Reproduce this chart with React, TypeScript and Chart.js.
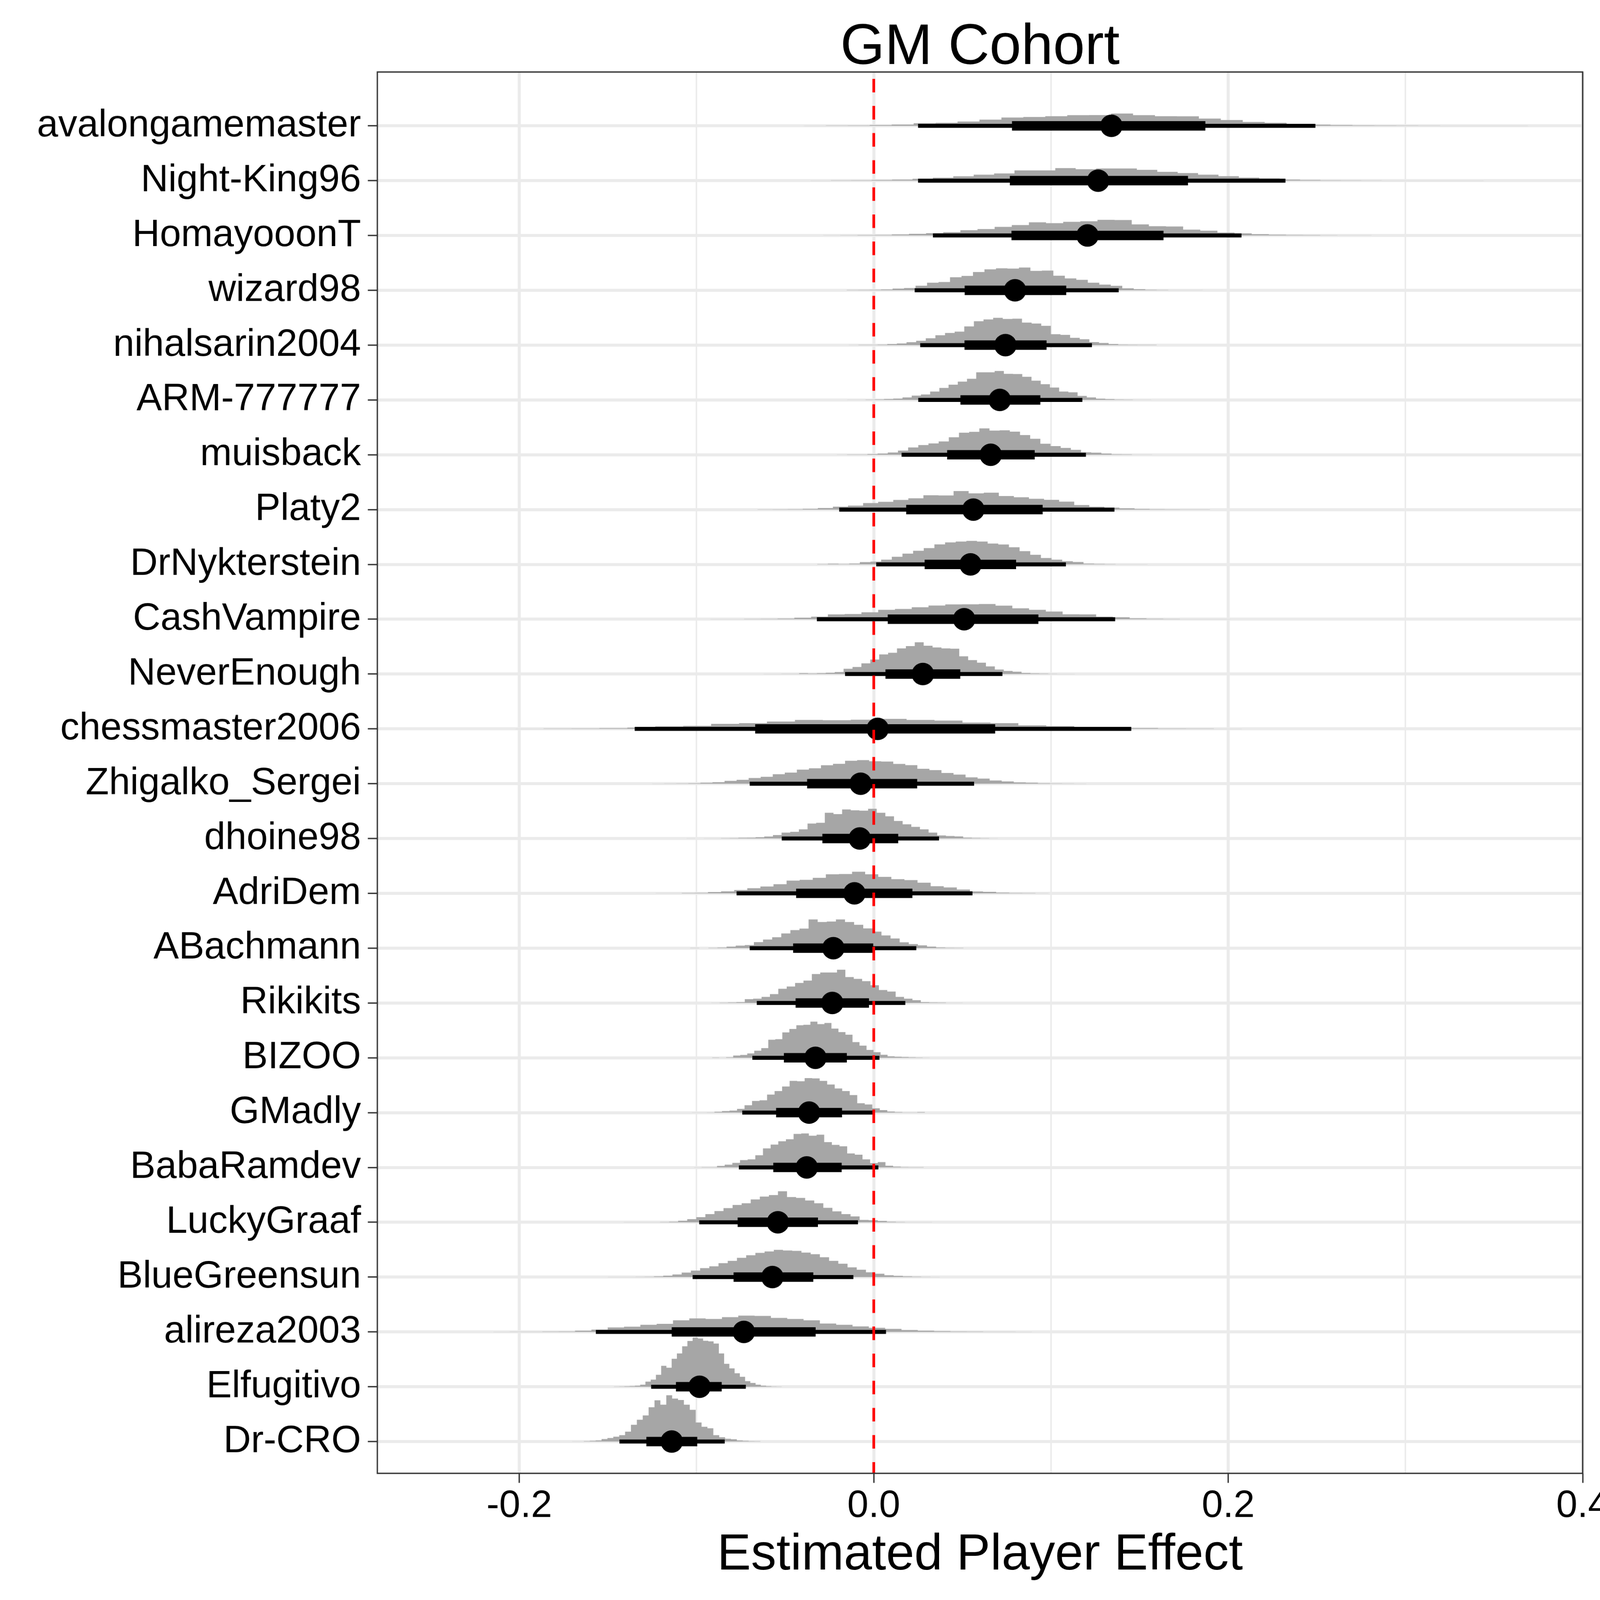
import React, { useEffect, useRef } from "react";
import { Chart, registerables } from "chart.js";

Chart.register(...registerables);

// ---------------- data ----------------
const players = [
  "avalongamemaster", "Night-King96", "HomayooonT", "wizard98", "nihalsarin2004",
  "ARM-777777", "muisback", "Platy2", "DrNykterstein", "CashVampire",
  "NeverEnough", "chessmaster2006", "Zhigalko_Sergei", "dhoine98", "AdriDem",
  "ABachmann", "Rikikits", "BIZOO", "GMadly", "BabaRamdev",
  "LuckyGraaf", "BlueGreensun", "alireza2003", "Elfugitivo", "Dr-CRO",
];

const medians = [
  0.1341, 0.1266, 0.1206, 0.0797, 0.0743, 0.0711, 0.0660, 0.0562, 0.0546, 0.0510,
  0.0277, 0.0022, -0.0074, -0.0079, -0.0109, -0.0228, -0.0234, -0.0329, -0.0365, -0.0378,
  -0.0541, -0.0572, -0.0733, -0.0983, -0.1140,
];

const interval66Low = [
  0.0780, 0.0768, 0.0777, 0.0513, 0.0512, 0.0489, 0.0414, 0.0183, 0.0287, 0.0079,
  0.0066, -0.0669, -0.0376, -0.0290, -0.0438, -0.0455, -0.0441, -0.0507, -0.0551, -0.0567,
  -0.0768, -0.0791, -0.1140, -0.1116, -0.1283,
];
const interval66High = [
  0.1871, 0.1773, 0.1635, 0.1086, 0.0975, 0.0940, 0.0908, 0.0953, 0.0803, 0.0929,
  0.0488, 0.0685, 0.0245, 0.0138, 0.0218, -0.0003, -0.0027, -0.0152, -0.0179, -0.0181,
  -0.0315, -0.0341, -0.0328, -0.0858, -0.0996,
];
const interval95Low = [
  0.0250, 0.0250, 0.0334, 0.0231, 0.0262, 0.0251, 0.0157, -0.0195, 0.0014, -0.0321,
  -0.0162, -0.1349, -0.0700, -0.0519, -0.0774, -0.0700, -0.0660, -0.0685, -0.0742, -0.0761,
  -0.0985, -0.1022, -0.1568, -0.1256, -0.1435,
];
const interval95High = [
  0.2492, 0.2323, 0.2075, 0.1382, 0.1231, 0.1177, 0.1197, 0.1358, 0.1084, 0.1362,
  0.0726, 0.1453, 0.0566, 0.0368, 0.0557, 0.0240, 0.0178, 0.0032, -0.0007, 0.0026,
  -0.0089, -0.0115, 0.0069, -0.0722, -0.0841,
];

// histogram slab: left edge of first bin, bin width, bin heights (in row units)
const slabStart = [
  -0.0394, -0.0357, -0.0285, -0.0153, -0.0141, -0.0150, -0.0208, -0.0656, -0.0319, -0.0921,
  -0.0622, -0.2021, -0.1250, -0.1057, -0.1231, -0.1036, -0.0917, -0.0912, -0.1026, -0.1014,
  -0.1411, -0.1500, -0.2146, -0.1466, -0.1702,
];
const slabBinWidth = [
  0.01238, 0.01151, 0.00967, 0.00648, 0.00543, 0.0052, 0.00574, 0.00851, 0.00601, 0.00946,
  0.00502, 0.01576, 0.0068, 0.00488, 0.00739, 0.00514, 0.00473, 0.00396, 0.00424, 0.00432,
  0.00512, 0.0052, 0.00921, 0.00296, 0.00332,
];
const slabDensity = [
  [0.003,0.005,0.007,0.014,0.023,0.047,0.056,0.079,0.113,0.151,0.162,0.176,0.195,0.197,0.224,0.195,0.176,0.174,0.132,0.106,0.072,0.056,0.035,0.021,0.014,0.010,0.007,0.005,0.004,0.003,0.003,0.002,0.002],
  [0.002,0.005,0.007,0.012,0.019,0.035,0.054,0.079,0.109,0.132,0.188,0.188,0.229,0.208,0.222,0.222,0.197,0.162,0.139,0.109,0.081,0.056,0.040,0.019,0.012,0.007,0.005,0.003,0.002,0.002,0.002,0.002,0.002],
  [0.002,0.005,0.007,0.009,0.019,0.030,0.042,0.060,0.097,0.118,0.158,0.190,0.241,0.225,0.250,0.259,0.285,0.283,0.202,0.169,0.164,0.107,0.088,0.053,0.039,0.023,0.014,0.009,0.007,0.005,0.002,0.002],
  [0.005,0.007,0.009,0.014,0.032,0.042,0.083,0.139,0.151,0.239,0.262,0.334,0.382,0.401,0.396,0.415,0.354,0.359,0.266,0.218,0.192,0.139,0.104,0.081,0.037,0.019,0.009,0.005,0.002,0.002,0.002],
  [0.002,0.005,0.005,0.009,0.019,0.030,0.053,0.079,0.125,0.181,0.222,0.246,0.341,0.435,0.468,0.498,0.477,0.482,0.412,0.394,0.352,0.199,0.188,0.134,0.107,0.056,0.039,0.019,0.009,0.007,0.005,0.005],
  [0.002,0.002,0.005,0.009,0.016,0.025,0.046,0.079,0.100,0.153,0.220,0.278,0.334,0.387,0.505,0.505,0.528,0.477,0.473,0.422,0.352,0.287,0.227,0.153,0.139,0.074,0.046,0.023,0.014,0.007,0.005,0.002,0.002],
  [0.002,0.005,0.005,0.012,0.023,0.042,0.076,0.134,0.178,0.206,0.243,0.320,0.403,0.419,0.482,0.442,0.447,0.422,0.359,0.292,0.202,0.158,0.125,0.090,0.046,0.039,0.023,0.009,0.007,0.002,0.002],
  [0.002,0.005,0.007,0.014,0.028,0.053,0.072,0.120,0.141,0.176,0.206,0.262,0.259,0.338,0.297,0.308,0.248,0.225,0.197,0.178,0.146,0.083,0.051,0.035,0.023,0.012,0.007,0.005,0.002,0.002],
  [0.005,0.012,0.007,0.014,0.042,0.051,0.088,0.139,0.197,0.248,0.297,0.366,0.401,0.417,0.429,0.417,0.380,0.364,0.313,0.241,0.176,0.116,0.088,0.058,0.044,0.014,0.009,0.005,0.002,0.002,0.002],
  [0.002,0.002,0.005,0.007,0.012,0.028,0.046,0.088,0.095,0.127,0.171,0.188,0.218,0.250,0.271,0.273,0.278,0.248,0.199,0.171,0.141,0.090,0.088,0.046,0.037,0.016,0.009,0.005,0.002,0.002,0.002],
  [0.002,0.002,0.005,0.005,0.014,0.009,0.014,0.023,0.037,0.097,0.130,0.195,0.264,0.359,0.389,0.468,0.510,0.579,0.517,0.486,0.468,0.463,0.324,0.255,0.208,0.139,0.083,0.056,0.042,0.019,0.012,0.007,0.005,0.002,0.002],
  [0.002,0.005,0.007,0.012,0.023,0.046,0.056,0.093,0.104,0.134,0.164,0.158,0.167,0.183,0.164,0.151,0.114,0.104,0.065,0.051,0.037,0.028,0.014,0.007,0.005,0.002],
  [0.002,0.003,0.005,0.009,0.016,0.028,0.052,0.071,0.104,0.127,0.174,0.203,0.257,0.281,0.336,0.362,0.418,0.431,0.409,0.405,0.361,0.338,0.272,0.248,0.196,0.167,0.116,0.094,0.058,0.042,0.023,0.016,0.008,0.005,0.003,0.002],
  [0.002,0.000,0.002,0.002,0.005,0.007,0.012,0.014,0.023,0.037,0.063,0.109,0.123,0.167,0.273,0.287,0.470,0.445,0.530,0.514,0.507,0.542,0.470,0.405,0.320,0.259,0.213,0.167,0.109,0.056,0.046,0.039,0.014,0.009,0.005,0.002],
  [0.002,0.002,0.007,0.009,0.023,0.037,0.060,0.093,0.125,0.167,0.232,0.246,0.283,0.347,0.352,0.394,0.347,0.301,0.259,0.241,0.195,0.130,0.107,0.069,0.035,0.028,0.012,0.007,0.005,0.002],
  [0.002,0.000,0.005,0.009,0.028,0.046,0.056,0.111,0.158,0.199,0.269,0.329,0.357,0.524,0.477,0.486,0.524,0.477,0.426,0.361,0.301,0.232,0.176,0.107,0.074,0.051,0.028,0.012,0.007,0.005],
  [0.002,0.005,0.009,0.014,0.069,0.079,0.111,0.162,0.259,0.301,0.366,0.408,0.528,0.556,0.556,0.607,0.473,0.440,0.398,0.324,0.236,0.208,0.111,0.079,0.051,0.014,0.009,0.007,0.002,0.002],
  [0.005,0.002,0.009,0.042,0.051,0.079,0.130,0.176,0.329,0.341,0.463,0.526,0.593,0.602,0.660,0.614,0.635,0.533,0.468,0.422,0.287,0.222,0.144,0.102,0.056,0.028,0.019,0.014,0.009,0.005,0.002],
  [0.002,0.002,0.005,0.014,0.028,0.037,0.069,0.134,0.213,0.225,0.329,0.394,0.477,0.579,0.572,0.630,0.625,0.579,0.514,0.440,0.394,0.320,0.171,0.148,0.079,0.046,0.019,0.009,0.005,0.005,0.009],
  [0.002,0.005,0.005,0.028,0.051,0.083,0.134,0.148,0.222,0.347,0.417,0.477,0.514,0.612,0.621,0.579,0.598,0.463,0.412,0.385,0.255,0.232,0.148,0.079,0.097,0.032,0.014,0.007,0.005,0.005],
  [0.002,0.002,0.002,0.002,0.005,0.009,0.028,0.056,0.093,0.148,0.204,0.259,0.315,0.347,0.417,0.468,0.496,0.565,0.459,0.445,0.398,0.347,0.264,0.199,0.148,0.107,0.042,0.037,0.023,0.009,0.005,0.002,0.002,0.002],
  [0.002,0.002,0.003,0.004,0.006,0.012,0.025,0.048,0.082,0.118,0.163,0.197,0.254,0.296,0.352,0.398,0.441,0.468,0.497,0.486,0.479,0.447,0.418,0.362,0.296,0.243,0.178,0.134,0.088,0.061,0.034,0.021,0.012,0.007,0.004,0.002],
  [0.002,0.003,0.004,0.006,0.009,0.023,0.042,0.081,0.095,0.130,0.148,0.211,0.246,0.236,0.269,0.297,0.292,0.255,0.236,0.211,0.153,0.130,0.100,0.075,0.055,0.035,0.022,0.014,0.009,0.006,0.004,0.003,0.002],
  [0.002,0.005,0.007,0.012,0.019,0.037,0.093,0.130,0.218,0.382,0.347,0.510,0.607,0.737,0.834,0.896,0.880,0.839,0.827,0.788,0.607,0.417,0.334,0.246,0.181,0.102,0.069,0.037,0.019,0.009,0.005,0.002],
  [0.002,0.002,0.007,0.012,0.019,0.046,0.065,0.088,0.116,0.181,0.306,0.398,0.477,0.625,0.753,0.672,0.845,0.783,0.757,0.672,0.579,0.347,0.269,0.241,0.116,0.079,0.051,0.042,0.019,0.012,0.007,0.005],
];

const xTickValues = [-0.2, -0.1, 0, 0.1, 0.2, 0.3, 0.4];
const referenceLineX = 0;

const chartTitle = "GM Cohort";
const xAxisTitle = "Estimated Player Effect";

// ---------------- layout / style (in 4200-px design units) ----------------
const CANVAS_W = 4200;
const CANVAS_H = 4200;
const X_MIN = -0.2801;
const X_MAX = 0.4;
const Y_MIN = -0.982;
const Y_MAX = 24.58;
const FONT = "'Liberation Sans', Arial, Helvetica, sans-serif";
const GRID = "#EBEBEB";
const DARK = "#333333";

const isMajor = (v: number) => Math.abs(Math.round(v * 10)) % 2 === 0;

const panelBorder = {
  id: "panelBorder",
  afterDatasetsDraw(chart: any) {
    const { ctx, chartArea: a } = chart;
    ctx.save();
    ctx.strokeStyle = DARK;
    ctx.lineWidth = 3.5;
    ctx.strokeRect(a.left, a.top, a.right - a.left, a.bottom - a.top);
    ctx.restore();
  },
};

function buildDatasets() {
  const ds: any[] = [];
  players.forEach((_, i) => {
    const heights = slabDensity[i];
    const pts = heights.map((h, k) => ({ x: slabStart[i] + k * slabBinWidth[i], y: i - h }));
    pts.push({ x: slabStart[i] + heights.length * slabBinWidth[i], y: i });
    ds.push({
      type: "line",
      data: pts,
      showLine: true,
      stepped: true,
      fill: { value: i },
      backgroundColor: "#A6A6A6",
      borderColor: "rgba(0,0,0,0)",
      borderWidth: 0,
      pointRadius: 0,
      order: 4,
    });
    ds.push({
      type: "line",
      data: [{ x: interval95Low[i], y: i }, { x: interval95High[i], y: i }],
      showLine: true,
      borderColor: "#000000",
      borderWidth: 10.5,
      borderCapStyle: "butt",
      pointRadius: 0,
      fill: false,
      order: 3,
    });
    ds.push({
      type: "line",
      data: [{ x: interval66Low[i], y: i }, { x: interval66High[i], y: i }],
      showLine: true,
      borderColor: "#000000",
      borderWidth: 24.7,
      borderCapStyle: "butt",
      pointRadius: 0,
      fill: false,
      order: 2,
    });
  });
  ds.push({
    type: "scatter",
    data: medians.map((m, i) => ({ x: m, y: i })),
    showLine: false,
    pointRadius: 29.5,
    pointBackgroundColor: "#000000",
    pointBorderWidth: 0,
    pointBorderColor: "#000000",
    order: 1,
  });
  ds.push({
    type: "line",
    data: [{ x: referenceLineX, y: Y_MIN }, { x: referenceLineX, y: Y_MAX }],
    showLine: true,
    borderColor: "#FF0000",
    borderWidth: 7,
    borderDash: [35.6, 35.6],
    borderDashOffset: 53.3,
    borderCapStyle: "butt",
    pointRadius: 0,
    fill: false,
    order: 0,
  });
  return ds;
}

export default function App() {
  const ref = useRef<HTMLCanvasElement>(null);

  useEffect(() => {
    const canvas = ref.current;
    if (!canvas) return;
    Chart.defaults.font.family = FONT;
    const chart = new Chart(canvas, {
      type: "scatter",
      data: { datasets: buildDatasets() },
      plugins: [panelBorder],
      options: {
        animation: false,
        responsive: false,
        maintainAspectRatio: false,
        devicePixelRatio: 1,
        events: [],
        layout: { padding: { left: 0, top: 0, bottom: 0, right: 45.5 } },
        plugins: {
          legend: { display: false },
          tooltip: { enabled: false },
          title: { display: false },
        },
        scales: {
          x: {
            type: "linear",
            position: "bottom",
            min: X_MIN,
            max: X_MAX,
            bounds: "data",
            afterBuildTicks: (s: any) => {
              s.ticks = xTickValues.map((v) => ({ value: v }));
            },
            afterFit: (s: any) => {
              s.height = CANVAS_H - 3867.5;
              s.paddingLeft = 0;
              s.paddingRight = 0;
            },
            ticks: {
              autoSkip: false,
              maxRotation: 0,
              minRotation: 0,
              padding: 2,
              color: "#000000",
              font: { size: 100, family: FONT },
              callback: (v: any) => (isMajor(Number(v)) ? Number(v).toFixed(1) : ""),
            },
            grid: {
              color: GRID,
              lineWidth: (c: any) => (isMajor(c.tick.value) ? 8 : 4),
              drawOnChartArea: true,
              drawTicks: true,
              tickLength: 25,
              tickWidth: 3.5,
              tickColor: (c: any) => (isMajor(c.tick.value) ? DARK : "rgba(0,0,0,0)"),
            },
            border: { display: false },
            title: {
              display: true,
              text: xAxisTitle,
              color: "#000000",
              font: { size: 133, family: FONT },
              padding: { top: 0, bottom: 37 },
            },
          },
          xTop: {
            type: "linear",
            position: "top",
            display: true,
            min: X_MIN,
            max: X_MAX,
            bounds: "data",
            afterFit: (s: any) => {
              s.height = 189;
              s.paddingLeft = 0;
              s.paddingRight = 0;
            },
            ticks: { display: false },
            grid: { display: false, drawTicks: false },
            border: { display: false },
            title: {
              display: true,
              text: chartTitle,
              color: "#000000",
              font: { size: 150, family: FONT },
              padding: { top: 37, bottom: 0 },
            },
          },
          y: {
            type: "linear",
            position: "left",
            min: Y_MIN,
            max: Y_MAX,
            reverse: true,
            bounds: "data",
            afterBuildTicks: (s: any) => {
              s.ticks = players.map((_, i) => ({ value: i }));
            },
            afterFit: (s: any) => {
              s.width = 990.5;
            },
            ticks: {
              autoSkip: false,
              padding: 18,
              color: "#000000",
              font: { size: 100, family: FONT },
              callback: (v: any) => players[Number(v)] ?? "",
            },
            grid: {
              color: GRID,
              lineWidth: 8,
              drawOnChartArea: true,
              drawTicks: true,
              tickLength: 25,
              tickWidth: 3.5,
              tickColor: DARK,
            },
            border: { display: false },
          },
        },
      } as any,
    });
    return () => chart.destroy();
  }, []);

  // The canvas bitmap is 4200x4200 design pixels; it is shown stretched over the
  // whole viewport so that the photograph maps 1:1 onto the design grid.
  return (
    <div
      style={{
        position: "fixed",
        left: 0,
        top: 0,
        width: "100vw",
        height: "100vh",
        overflow: "hidden",
        background: "#ffffff",
      }}
    >
      <canvas
        ref={ref}
        width={CANVAS_W}
        height={CANVAS_H}
        style={{ width: "100vw", height: "100vh", display: "block" }}
      />
    </div>
  );
}
